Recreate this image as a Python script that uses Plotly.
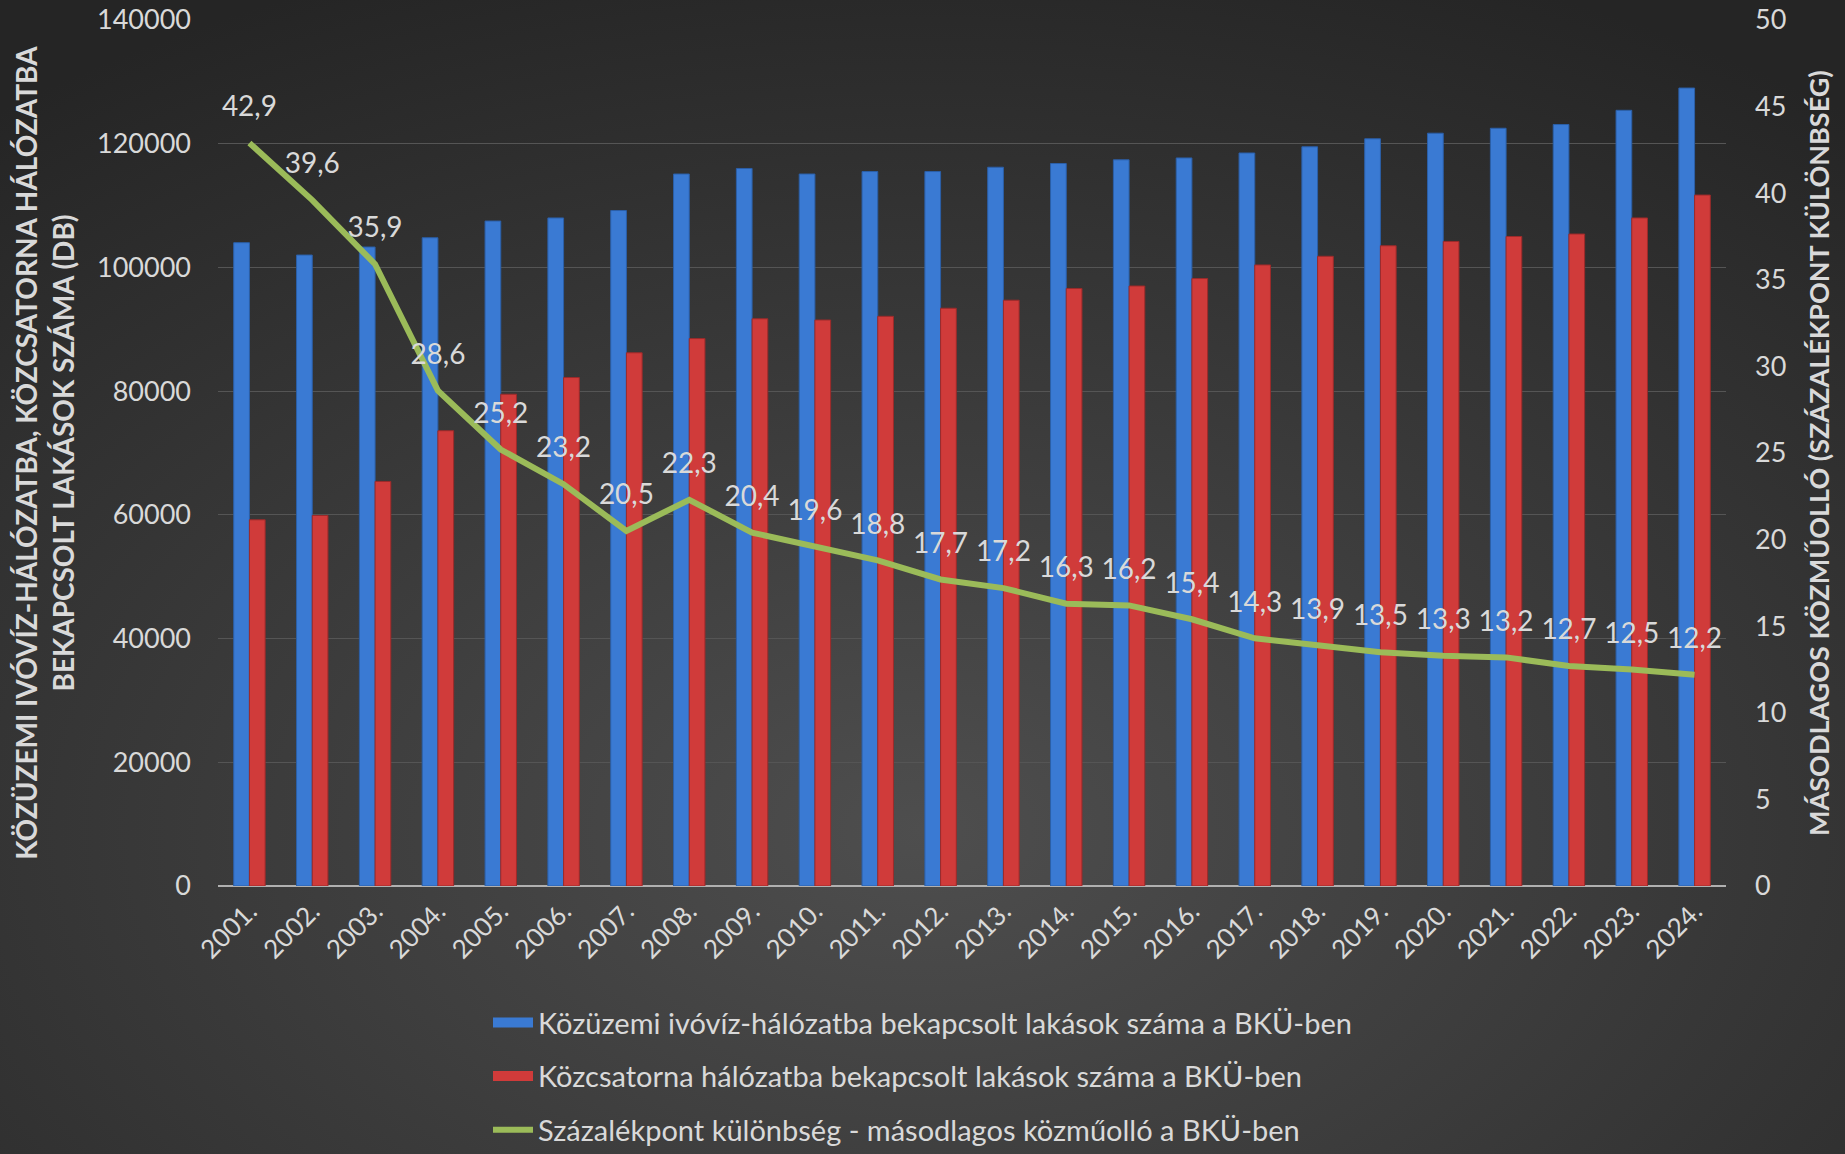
import base64
import plotly.graph_objects as go

# data
years = ['2001.', '2002.', '2003.', '2004.', '2005.', '2006.', '2007.', '2008.',
         '2009.', '2010.', '2011.', '2012.', '2013.', '2014.', '2015.', '2016.',
         '2017.', '2018.', '2019.', '2020.', '2021.', '2022.', '2023.', '2024.']
water = [104000, 102000, 103300, 104800, 107500, 108000, 109200, 115100,
         116000, 115100, 115500, 115500, 116200, 116800, 117400, 117700,
         118500, 119500, 120800, 121700, 122500, 123100, 125400, 129000]
sewer = [59200, 59900, 65400, 73600, 79500, 82200, 86200, 88500,
         91700, 91500, 92100, 93400, 94700, 96600, 97000, 98200,
         100400, 101800, 103500, 104200, 105000, 105400, 108000, 111700]
gap = [42.9, 39.6, 35.9, 28.6, 25.2, 23.2, 20.5, 22.3, 20.4, 19.6, 18.8, 17.7,
       17.2, 16.3, 16.2, 15.4, 14.3, 13.9, 13.5, 13.3, 13.2, 12.7, 12.5, 12.2]

names = ['Közüzemi ivóvíz-hálózatba bekapcsolt lakások száma a BKÜ-ben',
         'Közcsatorna hálózatba bekapcsolt lakások száma a BKÜ-ben',
         'Százalékpont különbség - másodlagos közműolló a BKÜ-ben']

FONT = 'Lato'
TXT = '#d9d9d9'
BLUE, RED, GREEN = '#3a7ad3', '#d03b3a', '#9bbb59'

# background gradient like the original
svg = ('<svg xmlns="http://www.w3.org/2000/svg" width="1845" height="1154">'
       '<defs><radialGradient id="g" cx="50%" cy="72%" r="80%">'
       '<stop offset="0%" stop-color="#4e4e4e"/>'
       '<stop offset="100%" stop-color="#252525"/>'
       '</radialGradient></defs>'
       '<rect width="1845" height="1154" fill="url(#g)"/></svg>')
bg = 'data:image/svg+xml;base64,' + base64.b64encode(svg.encode()).decode()

W, H = 1845, 1154
ml, mr, mt, mb = 218, 119, 20, 268
pw, ph = W - ml - mr, H - mt - mb

fig = go.Figure()
fig.add_trace(go.Bar(x=years, y=water, name=names[0], showlegend=False,
                     marker=dict(color=BLUE, line=dict(color='#2b5fa8', width=1))))
fig.add_trace(go.Bar(x=years, y=sewer, name=names[1], showlegend=False,
                     marker=dict(color=RED, line=dict(color='#9c2a2a', width=1))))
fig.add_trace(go.Scatter(x=years, y=gap, name=names[2], showlegend=False, yaxis='y2',
                         mode='lines+markers+text', line=dict(color=GREEN, width=6),
                         marker=dict(size=30, color='rgba(0,0,0,0)'),
                         text=[f'{v:.1f}'.replace('.', ',') for v in gap],
                         textposition='top center',
                         textfont=dict(family=FONT, size=28, color=TXT)))

# legend entries (wide rectangular keys like the original)
for i, (nm, col, lw) in enumerate(zip(names, [BLUE, RED, GREEN], [14, 14, 6])):
    fig.add_trace(go.Scatter(x=[None], y=[None], name=nm, mode='lines',
                             legendgroup=str(i), line=dict(color=col, width=lw)))

fig.update_layout(
    width=W, height=H,
    margin=dict(l=ml, r=mr, t=mt, b=mb, autoexpand=False),
    paper_bgcolor='#333333',
    plot_bgcolor='rgba(0,0,0,0)',
    font=dict(family=FONT, color=TXT, size=27),
    barmode='group', bargap=0.5, bargroupgap=0,
    images=[dict(source=bg, xref='paper', yref='paper',
                 x=-ml / pw, y=1 + mt / ph, sizex=W / pw, sizey=H / ph,
                 sizing='stretch', layer='below')],
    xaxis=dict(range=[-0.5, len(years) - 0.5], tickangle=-45, tickfont=dict(size=26),
               showgrid=False, showline=False, ticks='', ticklabelstandoff=4),
    yaxis=dict(range=[0, 140000], dtick=20000, tickformat='d',
               gridcolor='#555555', gridwidth=1, ticklabelstandoff=26,
               zeroline=True, zerolinecolor='#b0b0b0', zerolinewidth=2,
               title=dict(text='<b>KÖZÜZEMI IVÓVÍZ-HÁLÓZATBA, KÖZCSATORNA HÁLÓZATBA<br>'
                               'BEKAPCSOLT LAKÁSOK SZÁMA (DB)</b>',
                          font=dict(size=28), standoff=14)),
    yaxis2=dict(range=[0, 50], dtick=5, overlaying='y', side='right',
                showgrid=False, zeroline=False, ticklabelstandoff=28),
    annotations=[dict(text='<b>MÁSODLAGOS KÖZMŰOLLÓ (SZÁZALÉKPONT KÜLÖNBSÉG)</b>',
                      xref='paper', yref='paper', x=1 + (1818 - ml - pw) / pw, y=0.5,
                      textangle=-90, showarrow=False, font=dict(size=27, color=TXT),
                      xanchor='center', yanchor='middle')],
    legend=dict(orientation='v', xref='container', x=0.5, xanchor='center',
                yref='container', y=0.136, yanchor='top',
                font=dict(size=29), traceorder='grouped', tracegroupgap=13,
                itemwidth=40, bgcolor='rgba(0,0,0,0)'),
    showlegend=True,
)

fig.write_html('out.html', config={'displayModeBar': False},
               post_script="document.body.style.margin='0';"
                           "document.body.style.background='#2a2a2a';")
